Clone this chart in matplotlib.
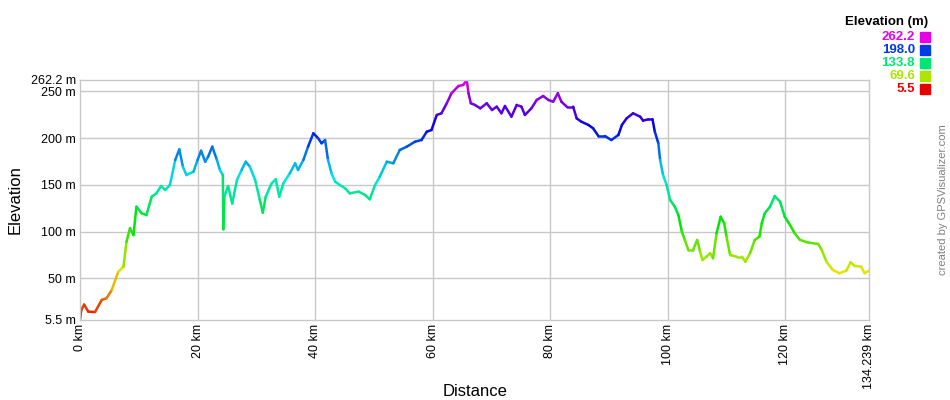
import numpy as np
import matplotlib
matplotlib.use("Agg")
import matplotlib.pyplot as plt
from matplotlib.collections import LineCollection
from matplotlib.colors import hsv_to_rgb

plt.rcParams["font.family"] = ["Liberation Sans", "DejaVu Sans"]

# profile (km, m)
dist_km = [0.0, 0.2, 0.7, 1.4, 2.55, 3.7, 4.5, 5.4, 6.5, 7.4, 7.9, 8.5, 9.1, 9.6,
           10.5, 11.3, 12.2, 13.0, 13.8, 14.5, 15.3, 16.2, 16.9, 17.5, 18.1, 19.3,
           20.0, 20.6, 21.3, 21.8, 22.5, 23.3, 23.8, 24.3, 24.4, 24.55, 25.2, 25.9,
           26.7, 27.5, 28.2, 28.9, 29.8, 30.6, 31.1, 31.6, 32.6, 33.3, 33.9, 34.6,
           35.7, 36.6, 37.1, 38.0, 38.8, 39.7, 40.5, 41.1, 41.7, 42.2, 42.8, 43.4,
           44.2, 45.1, 45.9, 47.4, 48.5, 49.3, 50.2, 51.0, 52.2, 53.3, 54.4, 55.6,
           57.0, 58.1, 59.0, 59.8, 60.7, 61.5, 62.4, 63.2, 64.4, 65.2, 65.8, 66.1,
           66.5, 67.2, 68.1, 69.2, 70.1, 70.9, 71.7, 72.3, 73.4, 74.3, 75.1, 75.7,
           76.8, 77.7, 78.8, 79.7, 80.5, 81.3, 81.9, 82.8, 83.9, 84.5, 85.3, 86.5,
           87.3, 88.2, 89.3, 90.4, 91.6, 92.2, 93.0, 94.1, 95.3, 95.8, 96.7, 97.4,
           97.8, 98.4, 98.7, 99.2, 99.8, 100.4, 101.2, 101.8, 102.4, 102.9, 103.5,
           104.3, 105.0, 105.5, 105.9, 106.6, 107.2, 107.7, 108.3, 109.0, 109.6,
           110.0, 110.6, 111.7, 112.6, 113.2, 114.0, 114.8, 115.6, 116.0, 116.5,
           117.4, 118.2, 119.1, 119.9, 120.8, 121.6, 122.5, 123.9, 125.6, 126.2,
           127.0, 128.1, 129.2, 130.4, 131.1, 131.8, 132.9, 133.5, 134.239]
elev_m = [5.5, 16, 22, 14.5, 14, 27, 28.7, 37.6, 57, 62.5, 89, 103.6, 96.4, 126.7,
          119.6, 117.8, 137.4, 141, 148.8, 144.6, 149.9, 176.6, 188, 169.5, 160.6, 164.1,
          176.6, 186.6, 174.8, 180.2, 190.9, 176.6, 166, 160.6, 102.5, 137.4, 148.8, 130,
          155.2, 166, 174.8, 169.5, 155.2, 133.9, 120.3, 137.4, 151.7, 156, 137.4, 151.7,
          162.4, 173.1, 166, 176.6, 190.9, 205.2, 200, 194.5, 198, 176.6, 162.4, 153.5,
          149.9, 146.4, 141, 142.8, 139.2, 134.6, 149.9, 158.8, 174.8, 173.1, 187.3, 190.9,
          196.2, 198, 206.9, 208.7, 224.8, 226.6, 237.3, 248, 255.8, 256.9, 262.2, 248,
          237.3, 235.5, 231.9, 237.3, 230.1, 233.7, 226.6, 234.4, 223, 235.5, 233.7, 224.8,
          231.9, 240.8, 245.1, 240.8, 239, 248, 239, 233.7, 233.7, 221.2, 217.6, 214.1,
          210.5, 202.3, 202.3, 198, 203.4, 214.1, 221.2, 226.6, 223, 218.7, 220.2, 220.2,
          206.9, 194.5, 176.6, 160.6, 149.9, 133.9, 126.7, 117.8, 100, 91.1, 80.4,
          80.4, 91.1, 78.6, 69.7, 73.3, 76.9, 71.5, 98.2, 116, 109,
          94.7, 75, 73.3, 73.3, 67.9, 76.9, 91.1, 94.7, 109, 119.6,
          126.7, 138.1, 132.1, 116, 107.1, 98.2, 91.1, 88.3, 86.8, 80.4,
          67.9, 59, 55.5, 58.3, 67.3, 63.3, 62.5, 55.5, 58.3]

y_ticks = [5.5, 50, 100, 150, 200, 250, 262.2]
y_labels = ["5.5 m", "50 m", "100 m", "150 m", "200 m", "250 m", "262.2 m"]
x_ticks = [0, 20, 40, 60, 80, 100, 120, 134.239]
x_labels = ["0 km", "20 km", "40 km", "60 km", "80 km", "100 km", "120 km", "134.239 km"]
legend_vals = [262.2, 198.0, 133.8, 69.6, 5.5]

lo, hi = 5.5, 262.2


def elev_color(v):
    h = (np.clip(v, lo, hi) - lo) / (hi - lo) * (300.0 / 360.0)
    return hsv_to_rgb([h, 1.0, 0.9])


x = np.array(dist_km)
y = np.array(elev_m)

fig = plt.figure(figsize=(9.5, 4.0), dpi=100)
ax = fig.add_axes([80 / 950, 80 / 400, 789 / 950, 240 / 400])

ax.set_xlim(0, 134.239)
ax.set_ylim(lo, hi)

grid_c = "#c8c8c8"
for v in [50, 100, 150, 200, 250]:
    ax.axhline(v, color=grid_c, lw=1, zorder=0)
for v in [20, 40, 60, 80, 100, 120]:
    ax.axvline(v, color=grid_c, lw=1, zorder=0)
for s in ax.spines.values():
    s.set_color(grid_c)
    s.set_linewidth(1)

pts = np.column_stack([x, y]).reshape(-1, 1, 2)
segs = np.concatenate([pts[:-1], pts[1:]], axis=1)
cols = [elev_color((a + b) / 2) for a, b in zip(y[:-1], y[1:])]
lc = LineCollection(segs, colors=cols, linewidths=1.8, capstyle="round", joinstyle="round")
ax.add_collection(lc)

ax.set_yticks(y_ticks)
ax.set_yticklabels(y_labels, fontsize=9)
ax.set_xticks(x_ticks)
ax.set_xticklabels(x_labels, fontsize=9, rotation=90)
ax.tick_params(length=0, pad=3)

ax.set_ylabel("Elevation", fontsize=12, labelpad=6)
fig.text(475 / 950, 1 - 392 / 400, "Distance", ha="center", va="center", fontsize=12)

# legend block in the top right corner
fig.text(928 / 950, 1 - 22 / 400, "Elevation (m)", ha="right", va="center",
         fontsize=9.5, fontweight="bold")
for i, v in enumerate(legend_vals):
    yc = 1 - (37 + i * 12.9) / 400
    c = elev_color(v)
    fig.text(915 / 950, yc, f"{v:.1f}", ha="right", va="center", fontsize=9.5,
             fontweight="bold", color=c)
    fig.patches.append(plt.Rectangle((920 / 950, yc - 5 / 400), 10 / 950, 10 / 400,
                                     transform=fig.transFigure, color=c))

fig.text(943 / 950, 0.5, "created by GPSVisualizer.com", rotation=90, ha="center",
         va="center", fontsize=8, color="#808080")

fig.savefig("out.png", dpi=100, facecolor="white")
